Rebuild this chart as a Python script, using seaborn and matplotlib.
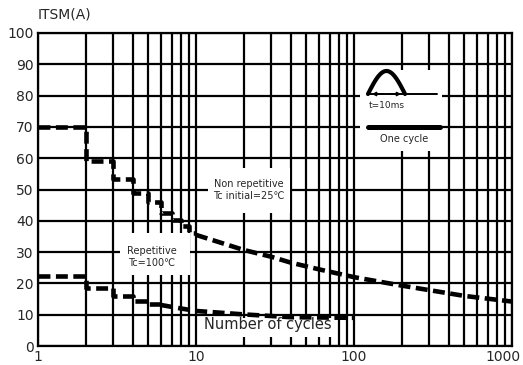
import numpy as np
import pandas as pd
import seaborn as sns
import matplotlib
matplotlib.use("Agg")
import matplotlib.pyplot as plt
from matplotlib.patches import Rectangle
from matplotlib.transforms import ScaledTranslation

# Surge current ratings versus number of cycles
nonrep_step_cycles = [1, 2, 3, 4, 5, 6, 7, 8, 9, 10]
nonrep_step_itsm = [70, 59.2, 53.4, 49, 46, 42.5, 40.3, 38.2, 36.2, 36.2]
nonrep_tail_cycles = [10, 20, 30, 40, 60, 100, 200, 500, 1000]
nonrep_tail_itsm = [35.5, 30.7, 28.5, 26.6, 24.5, 22.0, 19.3, 16.0, 14.2]

rep_step_cycles = [1, 2, 3, 4, 5, 6]
rep_step_itsm = [22.5, 18.4, 16.0, 14.4, 13.3, 13.3]
rep_tail_cycles = [6, 8, 10, 20, 40, 100]
rep_tail_itsm = [13.1, 12.0, 11.2, 10.1, 9.2, 9.0]

y_ticks = [0, 10, 20, 30, 40, 50, 60, 70, 80, 90, 100]
x_ticks = [1, 10, 100, 1000]
x_ticklabels = ["1", "10", "100", "1000"]

sns.set_style("white")
plt.rcParams["font.family"] = ["DejaVu Sans"]

fig = plt.figure(figsize=(5.23, 3.65), dpi=100)
ax = fig.add_axes([38 / 523, 19 / 365, 474 / 523, 313 / 365])
ax.set_xscale("log")
ax.set_xlim(1, 1000)
ax.set_ylim(0, 100)

# grid: decades plus 2..9 subdivisions, horizontal every 10 A
grid_kw = dict(color="black", lw=1.6, zorder=1)
for dec in [1, 10, 100]:
    for m in range(1, 10):
        ax.axvline(dec * m, **grid_kw)
ax.axvline(1000, **grid_kw)
for yv in y_ticks:
    ax.axhline(yv, **grid_kw)

# white panels behind the annotations
def blank(x0, x1, y0, y1):
    ax.add_patch(Rectangle((x0, y0), x1 - x0, y1 - y0, facecolor="white",
                           edgecolor="none", zorder=2))

def px_x(p):
    return 10 ** ((p - 38) / 158)

def px_y(p):
    return (346 - p) / 3.13

blank(px_x(208), px_x(290), px_y(213), px_y(168))
blank(px_x(120), px_x(190), px_y(275), px_y(233))
blank(px_x(200), px_x(336), px_y(337), px_y(318))
blank(px_x(360), px_x(442), px_y(151), px_y(70))

line_kw = dict(color="black", lw=3.3, dashes=(2.6, 1.2), legend=False, zorder=4)
df = pd.DataFrame
sns.lineplot(data=df({"n": nonrep_step_cycles, "i": nonrep_step_itsm}), x="n", y="i",
             ax=ax, drawstyle="steps-post", sort=False, **line_kw)
sns.lineplot(data=df({"n": nonrep_tail_cycles, "i": nonrep_tail_itsm}), x="n", y="i",
             ax=ax, sort=False, **line_kw)
sns.lineplot(data=df({"n": rep_step_cycles, "i": rep_step_itsm}), x="n", y="i",
             ax=ax, drawstyle="steps-post", sort=False, **line_kw)
sns.lineplot(data=df({"n": rep_tail_cycles, "i": rep_tail_itsm}), x="n", y="i",
             ax=ax, sort=False, **line_kw)

# half-sine pulse sketch
t = np.linspace(0, np.pi, 60)
xs = 10 ** (np.log10(px_x(368)) + (np.log10(px_x(405)) - np.log10(px_x(368))) * t / np.pi)
ax.plot(xs, px_y(94) + (px_y(71) - px_y(94)) * np.sin(t), color="black", lw=3.0,
        solid_capstyle="round", zorder=5)
ax.plot([px_x(368), px_x(437)], [px_y(94), px_y(94)], color="black", lw=1.4, zorder=5)
ax.annotate("", xy=(px_x(369), px_y(94)), xytext=(px_x(386), px_y(94)),
            arrowprops=dict(arrowstyle="-|>", color="black", lw=1.0, mutation_scale=6), zorder=6)
ax.annotate("", xy=(px_x(404), px_y(94)), xytext=(px_x(387), px_y(94)),
            arrowprops=dict(arrowstyle="-|>", color="black", lw=1.0, mutation_scale=6), zorder=6)
ax.text(px_x(369), px_y(105), "t=10ms", fontsize=6.5, ha="left", va="center", zorder=6)
ax.plot([px_x(368), px_x(440)], [px_y(127), px_y(127)], color="black", lw=3.6,
        solid_capstyle="round", zorder=5)
ax.text(px_x(404), px_y(139), "One cycle", fontsize=7, ha="center", va="center", zorder=6)

ax.text(px_x(249), px_y(190), "Non repetitive\nTc initial=25\u2103", fontsize=7,
        ha="center", va="center", linespacing=1.25, zorder=6)
ax.text(px_x(152), px_y(257), "Repetitive\nTc=100\u2103", fontsize=7,
        ha="center", va="center", linespacing=1.25, zorder=6)
ax.text(px_x(268), px_y(325), "Number of cycles", fontsize=10.5,
        ha="center", va="center", zorder=6)

ax.set_yticks(y_ticks)
ax.set_yticklabels([str(v) for v in y_ticks], fontsize=10)
ax.set_xticks(x_ticks)
ax.set_xticklabels(x_ticklabels, fontsize=10)
ax.xaxis.set_minor_locator(matplotlib.ticker.NullLocator())
ax.tick_params(axis="both", length=0, pad=3)
last = ax.get_xticklabels()[-1]
last.set_horizontalalignment("right")
last.set_transform(last.get_transform() + ScaledTranslation(9 / 100, 0, fig.dpi_scale_trans))
ax.set_xlabel("")
ax.set_ylabel("")
for s in ax.spines.values():
    s.set_color("black")
    s.set_linewidth(1.6)
fig.text(38 / 523, 1 - 15 / 365, "ITSM(A)", fontsize=10, ha="left", va="center")

fig.savefig("out.png", dpi=100)
